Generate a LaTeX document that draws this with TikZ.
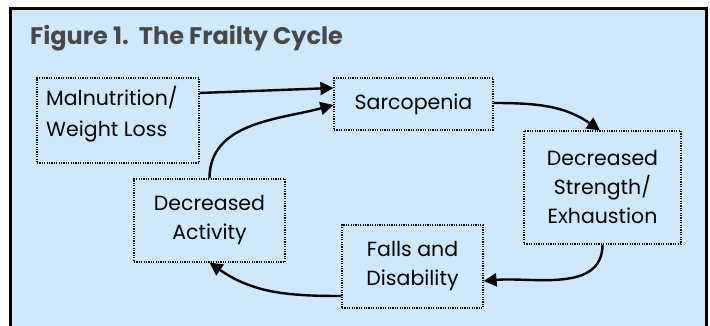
\documentclass[tikz,border=0pt]{standalone}
\usepackage{fontspec}
\setmainfont{Poppins}
\usetikzlibrary{arrows.meta}
\definecolor{bgblue}{RGB}{205,233,251}
\definecolor{titlegray}{RGB}{72,72,72}
\begin{document}
\begin{tikzpicture}[x=1pt,y=-1pt,
  box/.style={draw, line width=1.2pt, dash pattern=on 1.2pt off 1.2pt, inner sep=0pt, align=center,
    font=\fontsize{20.5}{29}\selectfont},
  bodytext/.style={inner sep=0pt, align=left, font=\fontsize{20.5}{31}\selectfont},
  conn/.style={line width=2.4pt, -{Triangle[length=13pt,width=13pt]}},
]
\useasboundingbox (0,0) rectangle (710,326);
\fill[white] (0,0) rectangle (710,326);
\draw[line width=3pt, fill=bgblue] (10.5,8.5) rectangle (706.5,340);
\node[anchor=base west, inner sep=0pt, text=titlegray, font=\fontsize{24}{28}\selectfont\bfseries] (title) at (30,45) {Figure 1.\ \ The Frailty Cycle};
\node[box, minimum width=162pt, minimum height=85pt] (mal) at (118,120.5) {};
\node[bodytext, anchor=base west] (maltext) at (46,137) {Malnutrition/\\Weight Loss};
\node[box, minimum width=159pt, minimum height=52pt] (sar) at (413.5,104) {Sarcopenia};
\node[box, minimum width=157pt, minimum height=113pt] (str) at (602.5,187.5) {Decreased\\Strength/\\Exhaustion};
\node[box, minimum width=141pt, minimum height=83pt] (fal) at (412.5,266.5) {Falls and\\Disability};
\node[box, minimum width=151pt, minimum height=83pt] (act) at (209.5,220.5) {Decreased\\Activity};
\draw[conn] ([yshift=27.5pt]mal.east) -- ([yshift=16pt]sar.west);
\draw[conn] (act.north) to[out=90,in=195] ([yshift=-1pt]sar.west);
\draw[conn] ([yshift=1pt]sar.east) to[out=0,in=145] ([xshift=-2.5pt]str.north);
\draw[conn] (str.south) to[out=-90,in=5] ([yshift=-14.5pt]fal.east);
\draw[conn] ([yshift=-29.5pt]fal.west) to[out=180,in=-35] (act.south);
\end{tikzpicture}
\end{document}
